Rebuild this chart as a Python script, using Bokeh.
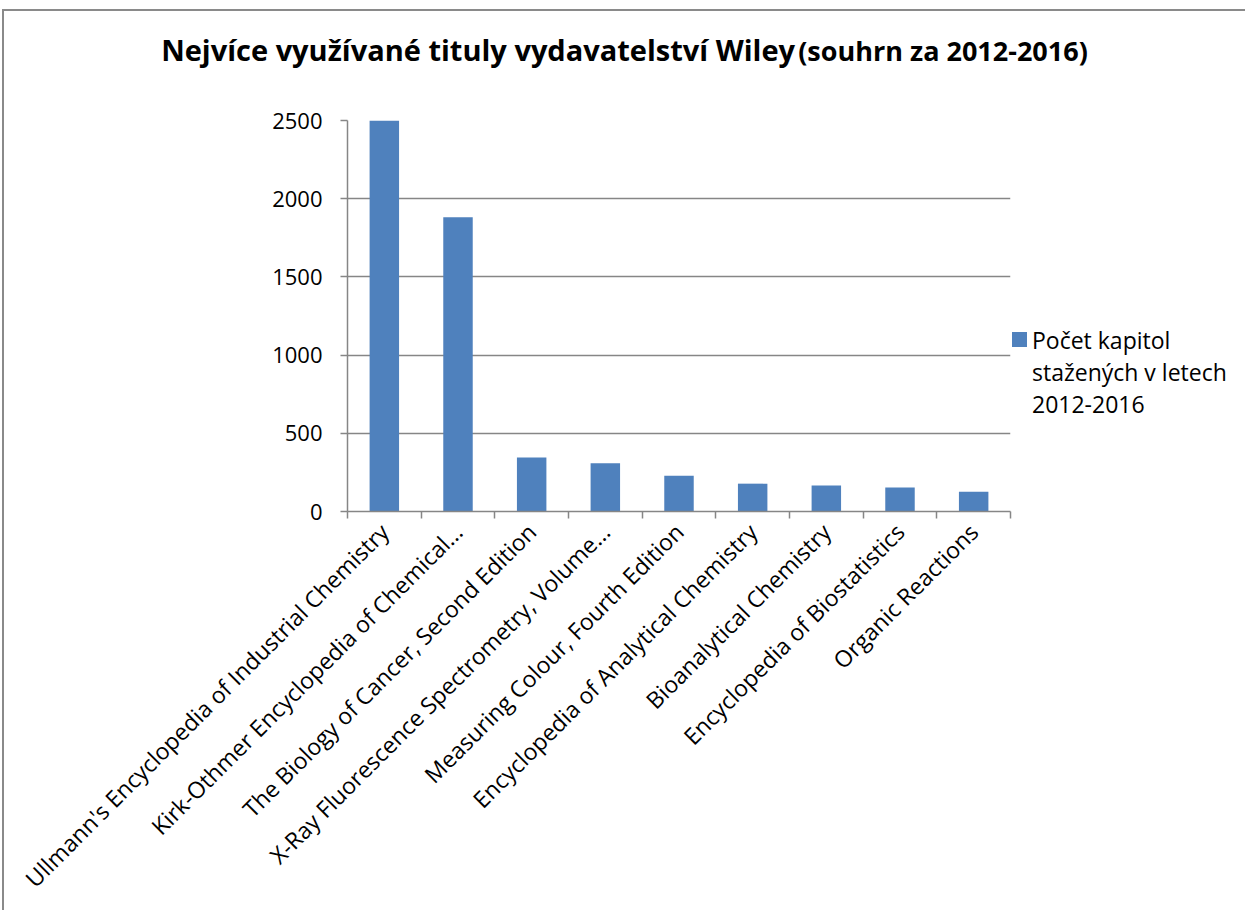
import math
from bokeh.plotting import figure
from bokeh.models import FixedTicker, Range1d, Div
from bokeh.layouts import column, row
from bokeh.embed import file_html
from bokeh.resources import INLINE

titles = [
    "Ullmann's Encyclopedia of Industrial Chemistry",
    "Kirk-Othmer Encyclopedia of Chemical...",
    "The Biology of Cancer, Second Edition",
    "X-Ray Fluorescence Spectrometry, Volume...",
    "Measuring Colour, Fourth Edition",
    "Encyclopedia of Analytical Chemistry",
    "Bioanalytical Chemistry",
    "Encyclopedia of Biostatistics",
    "Organic Reactions",
]
downloads = [2500, 1881, 345, 308, 229, 178, 167, 154, 126]
y_ticks = [0, 500, 1000, 1500, 2000, 2500]
series_lines = ["Počet kapitol", "stažených v letech", "2012-2016"]
title_main = "Nejvíce využívané tituly vydavatelství Wiley"
title_sub = "(souhrn za 2012-2016)"

FONT = "Open Sans"
GRAY = "#868686"
BAR = "#4F81BD"

FIG_W, FIG_H = 1008, 811
p = figure(width=FIG_W, height=FIG_H, output_backend="svg", toolbar_location=None,
           x_range=Range1d(0, len(titles)), y_range=Range1d(0, 2500),
           min_border_left=343, min_border_right=2,
           min_border_top=21, min_border_bottom=399,
           background_fill_color="white", border_fill_color="white",
           outline_line_color=None, margin=0)

xs = [i + 0.5 for i in range(len(titles))]
p.vbar(x=xs, top=downloads, width=0.4, fill_color=BAR, line_color=None)

# y axis
p.yaxis.ticker = FixedTicker(ticks=y_ticks)
p.yaxis.axis_line_color = GRAY
p.yaxis.axis_line_width = 1.5
p.yaxis.major_tick_line_color = GRAY
p.yaxis.major_tick_line_width = 1.5
p.yaxis.major_tick_out = 7
p.yaxis.major_tick_in = 0
p.yaxis.minor_tick_line_color = None
p.yaxis.major_label_text_font = FONT
p.yaxis.major_label_text_font_size = "22px"
p.yaxis.major_label_text_color = "black"
p.yaxis.major_label_standoff = 18

p.ygrid.grid_line_color = GRAY
p.ygrid.grid_line_width = 1.5
p.xgrid.grid_line_color = None

# x axis
p.xaxis.ticker = FixedTicker(ticks=xs, minor_ticks=list(range(len(titles) + 1)))
p.xaxis.major_label_overrides = {x: t for x, t in zip(xs, titles)}
p.xaxis.axis_line_color = GRAY
p.xaxis.axis_line_width = 1.5
p.xaxis.major_tick_line_color = None
p.xaxis.minor_tick_line_color = GRAY
p.xaxis.minor_tick_line_width = 1.5
p.xaxis.minor_tick_out = 7
p.xaxis.minor_tick_in = 0
p.xaxis.major_label_orientation = math.pi / 4
p.xaxis.major_label_text_font = FONT
p.xaxis.major_label_text_font_size = "23px"
p.xaxis.major_label_text_color = "black"
p.xaxis.major_label_standoff = 9

title_div = Div(
    text=(f'<div style="font-family: \'Open Sans\'; font-weight: bold; color: black; '
          f'text-align: center; width: 1231px; padding-top: 19px; padding-left: 10px; '
          f'white-space: nowrap; line-height: normal;">'
          f'<span style="font-size: 29px;">{title_main}</span> '
          f'<span style="font-size: 27px;">{title_sub}</span></div>'),
    width=1241, height=88, margin=0)

legend_html = (
    '<div style="position: relative; width: 233px; height: 400px; '
    'font-family: \'Open Sans\'; font-size: 23px; line-height: 32px; color: black;">'
    f'<div style="position: absolute; left: 0px; top: 233px; width: 15px; height: 15px; '
    f'background: {BAR};"></div>'
    '<div style="position: absolute; left: 20px; top: 225px; white-space: nowrap;">'
    + "<br>".join(series_lines) + '</div></div>')
legend_div = Div(text=legend_html, width=233, height=FIG_H, margin=0)

layout = column(title_div, row(p, legend_div, spacing=0, margin=0),
                spacing=0, margin=(9, 0, 0, 2))
layout.styles = {"border-top": "2px solid #8a8a8a", "border-left": "2px solid #8a8a8a",
                 "background": "white"}

open("out.html", "w").write(file_html(layout, INLINE))
